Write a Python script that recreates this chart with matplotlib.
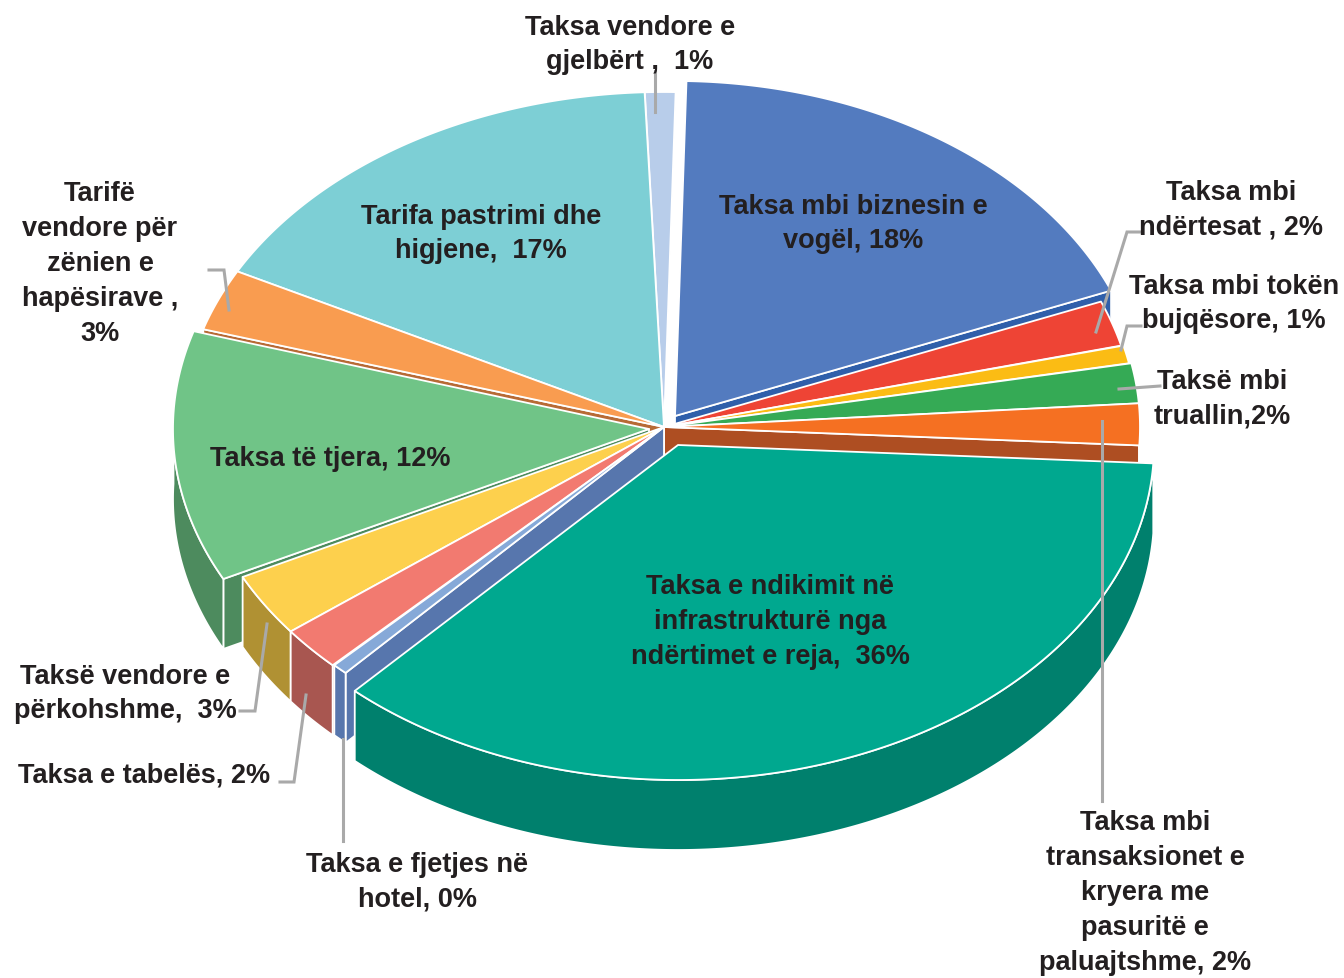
import numpy as np
import matplotlib
matplotlib.use("Agg")
import matplotlib.pyplot as plt
from matplotlib.patches import Polygon

# Data
labels = ["Taksa mbi biznesin e\nvogël, 18%", "Taksa mbi\nndërtesat , 2%", "Taksa mbi tokën\nbujqësore, 1%",
          "Taksë mbi\ntruallin,2%", "Taksa mbi\ntransaksionet e\nkryera me\npasuritë e\npaluajtshme, 2%",
          "Taksa e ndikimit në\ninfrastrukturë nga\nndërtimet e reja,  36%", "Taksa e fjetjes në\nhotel, 0%",
          "Taksa e tabelës, 2%", "Taksë vendore e\npërkohshme,  3%", "Taksa të tjera, 12%",
          "Tarifë\nvendore për\nzënien e\nhapësirave ,\n3%", "Tarifa pastrimi dhe\nhigjene,  17%",
          "Taksa vendore e\ngjelbërt ,  1%"]
values = [18.5, 2.2, 0.86, 1.92, 2.0, 36.0, 0.53, 2.14, 3.06, 12.1, 2.97, 16.67, 1.03]
explode_dx = [11, 0, 0, 0, 0, 14, 0, 0, 0, -15, 0, 0, 0]
explode_dy = [-11, 0, 0, 0, 0, 18, 0, 0, 0, 2, 0, 0, 0]
rx_scale = [0.988, 0.99, 0.995, 1, 1, 1, 0.985, 0.99, 0.99, 1, 1.012, 1.012, 1]
top_colors = ["#537bbf", "#ee4435", "#fbbc14", "#35aa55", "#f57022", "#00a88f", "#86a9d8",
              "#f27a70", "#fdd04d", "#70c487", "#f99c50", "#7dcfd5", "#b8cdea"]
wall_colors = ["#2f5faa", "#a8302a", "#b0860e", "#25783c", "#ae4e22", "#00806d", "#5776ad",
               "#a85650", "#b09133", "#4d8b5e", "#b76a35", "#58929a", "#8292a5"]
label_pos = [(853, 224), (1231, 210), (1234, 304), (1222, 399), (1145, 893), (770, 622), (417, 882),
             (144, 776), (125, 694), (330, 459), (100, 264), (481, 234), (630, 45)]
leaders = [[(655, 72), (655, 113)],
           [(1140, 233), (1127, 233), (1096, 333)],
           [(1141, 327), (1127, 327), (1121, 351)],
           [(1160, 387), (1119, 390)],
           [(1102, 802), (1102, 422)],
           [(240, 712), (255, 712), (267, 625)],
           [(280, 783), (294, 783), (306, 696)],
           [(343, 842), (343, 740)],
           [(209, 271), (224, 271), (229, 311)]]
start_deg = 1.4
cx, cy, rx, ry, depth = 664, 428, 476, 335, 70
text_color = "#231f20"

fig = plt.figure(figsize=(13.44, 9.79), dpi=100)
ax = fig.add_axes([0, 0, 1, 1])
ax.set_xlim(0, 1344)
ax.set_ylim(979, 0)
ax.axis("off")

ang = start_deg + np.concatenate([[0], np.cumsum(values)]) * 3.6 / (sum(values) / 100)
mid = (ang[:-1] + ang[1:]) / 2


def pt(theta, sc=1.0):
    t = np.radians(theta)
    return sc * rx * np.sin(t), -ry * np.cos(t)


order = np.argsort(-np.cos(np.radians(mid)))
for i in order:
    a0, a1 = ang[i], ang[i + 1]
    tx, ty = cx + explode_dx[i], cy + explode_dy[i]
    th = np.linspace(a0, a1, max(int(a1 - a0) * 2, 6))
    px, py = pt(th, rx_scale[i])
    px = tx + px
    py = ty + py
    style = dict(lw=1.3, ec="white", joinstyle="round")
    # side walls: only those facing the viewer, skipped when seen edge-on
    visible = (np.sin(np.radians(a0)) < 0, np.sin(np.radians(a1)) > 0)
    for k, vis in zip((0, -1), visible):
        if vis and abs(px[k] - tx) > 30:
            wall = [(tx, ty), (px[k], py[k]), (px[k], py[k] + depth), (tx, ty + depth)]
            ax.add_patch(Polygon(wall, closed=True, fc=wall_colors[i], **style))
    # outer wall, front-facing part only
    front = np.cos(np.radians(th)) < 0.05
    if front.sum() >= 2:
        outer = np.r_[np.c_[px[front], py[front]], np.c_[px[front], py[front] + depth][::-1]]
        ax.add_patch(Polygon(outer, closed=True, fc=wall_colors[i], **style))
    # top
    top = np.r_[[[tx, ty]], np.c_[px, py]]
    ax.add_patch(Polygon(top, closed=True, fc=top_colors[i], **style))

for path in leaders:
    xs, ys = zip(*path)
    ax.plot(xs, ys, color="#a9a9a9", lw=2.2, solid_joinstyle="miter", zorder=5)

for s, (x, y) in zip(labels, label_pos):
    ax.text(x, y, s, ha="center", va="center", fontsize=19.5, fontweight="bold",
            family="Liberation Sans", color=text_color, linespacing=1.44, zorder=6)

fig.savefig("out.png", dpi=100)
